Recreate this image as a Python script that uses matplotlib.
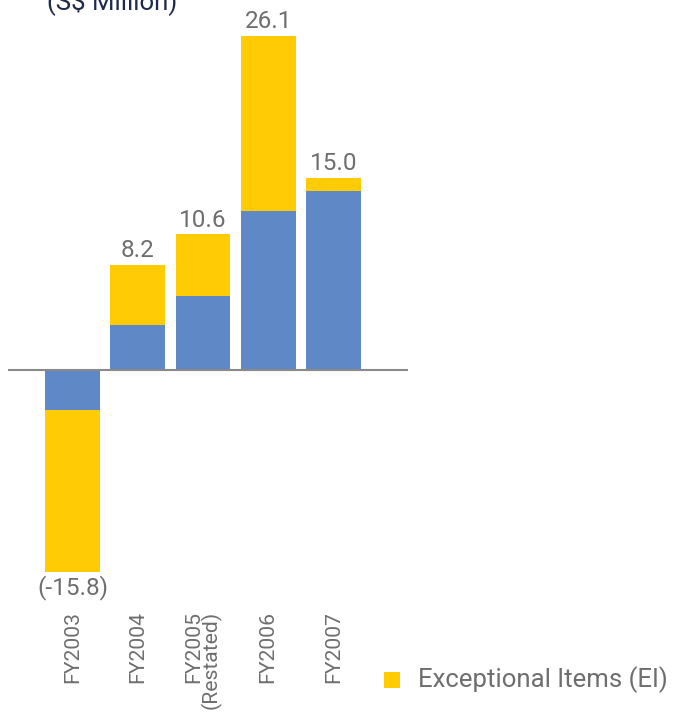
import matplotlib
matplotlib.use("Agg")
import matplotlib.pyplot as plt
from matplotlib.patches import Rectangle

plt.rcParams['font.family'] = ['Roboto', 'DejaVu Sans']

years = ["FY2003", "FY2004", "FY2005\n(Restated)", "FY2006", "FY2007"]
totals = [-15.8, 8.2, 10.6, 26.1, 15.0]
before_ei = [-3.1, 3.5, 5.8, 12.4, 14.0]
exceptional = [t - b for t, b in zip(totals, before_ei)]

BLUE = "#5F89C6"
YELLOW = "#FFCB05"
GREY = "#6E6E6E"

W, H = 673, 713
fig = plt.figure(figsize=(W / 100, H / 100), dpi=100)

# axes span: x 8..408 px, y from 600 px (bottom) to top edge
ax = fig.add_axes([8 / W, 113 / H, 400 / W, 600 / H])
scale = 12.8  # px per S$ million
ax.set_ylim(-(600 - 370) / scale, 370 / scale)
ax.set_xlim(-(72.5 - 8) / 65.25, (408 - 72.5) / 65.25)

x = list(range(len(years)))
ax.bar(x, before_ei, width=0.84, color=BLUE, linewidth=0)
ax.bar(x, exceptional, bottom=before_ei, width=0.84, color=YELLOW, linewidth=0)
ax.axhline(0, color="#8A8A8A", linewidth=1.5)

for xi, t in zip(x, totals):
    if t >= 0:
        ax.text(xi, t + 0.2, f"{t:.1f}", ha="center", va="bottom",
                fontsize=17.5, color=GREY)
    else:
        ax.text(xi, t - 0.2, f"({t:.1f})", ha="center", va="top",
                fontsize=17.5, color=GREY)

# year labels read bottom-to-top, line ends flush at the top
for xi, lab in zip(x, years):
    ax.text(xi, -(611 - 370) / scale, lab, rotation=90, ha="center", va="top",
            fontsize=15.2, color=GREY, linespacing=0.85,
            clip_on=False, multialignment="right")

for s in ax.spines.values():
    s.set_visible(False)
ax.set_xticks([])
ax.set_yticks([])

fig.text(47 / W, 1 - 9 / H, "(S$ Million)", ha="left", va="baseline",
         fontsize=18.5, color="#1F2A4A")

# legend
fig.patches.append(Rectangle((384 / W, 1 - 688 / H), 16 / W, 16 / H,
                             transform=fig.transFigure, color=YELLOW, linewidth=0))
fig.text(418 / W, 1 - 680 / H, "Exceptional Items (EI)", ha="left", va="center",
         fontsize=18.5, color=GREY)

fig.savefig("out.png", dpi=100)
